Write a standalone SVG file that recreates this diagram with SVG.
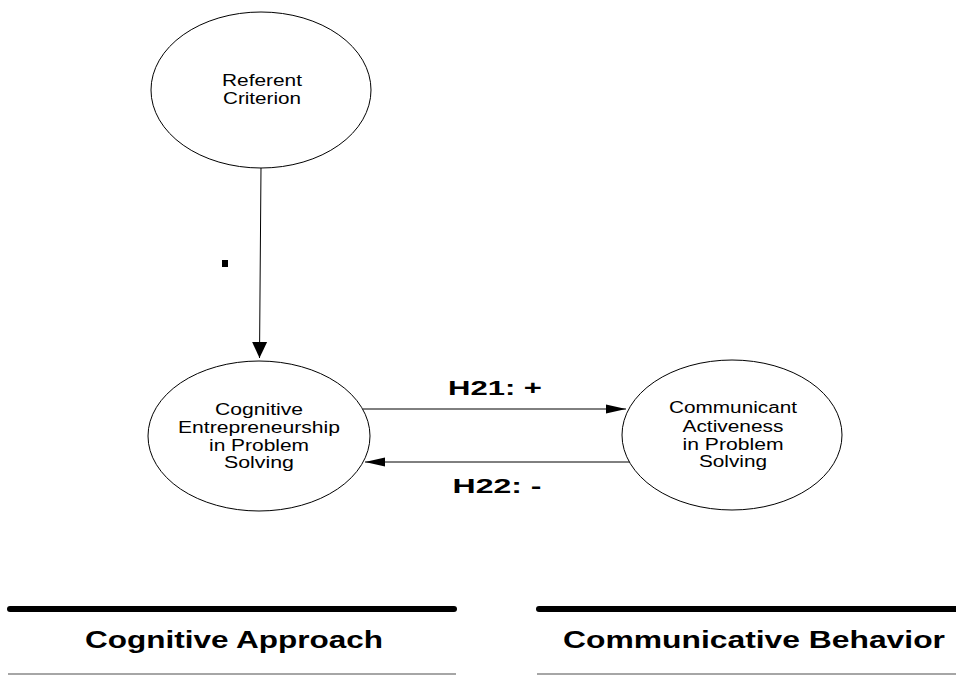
<svg xmlns="http://www.w3.org/2000/svg" width="956" height="675" viewBox="0 0 956 675">
  <style>
    .node { fill: #ffffff; stroke: #000000; stroke-width: 1; }
    .lbl { font-family: "Liberation Sans", Arial, sans-serif; font-size: 16px; fill: #000000; text-anchor: middle; }
    .hyp { font-family: "Liberation Sans", Arial, sans-serif; font-size: 21px; font-weight: bold; fill: #000000; text-anchor: middle; }
    .cap { font-family: "Liberation Sans", Arial, sans-serif; font-size: 24px; font-weight: bold; fill: #000000; text-anchor: middle; }
    .edge { stroke: #000000; stroke-width: 1; fill: none; }
    .rule-heavy { stroke: #000000; stroke-width: 6; stroke-linecap: round; }
    .rule-light { stroke: #888888; stroke-width: 1.5; }
  </style>
  <defs>
    <marker id="headH" markerUnits="userSpaceOnUse" markerWidth="20" markerHeight="10" refX="20" refY="5" orient="auto">
      <polygon points="0,0.5 20,5 0,9.5" fill="#000000"/>
    </marker>
    <marker id="headV" markerUnits="userSpaceOnUse" markerWidth="16" markerHeight="16" refX="16" refY="8" orient="auto">
      <polygon points="0,0.5 16,8 0,15.5" fill="#000000"/>
    </marker>
  </defs>

  <rect width="956" height="675" fill="#ffffff"/>

  <!-- connectors -->
  <g id="connectors">
    <line class="edge" x1="261" y1="167" x2="259.5" y2="358" marker-end="url(#headV)"/>
    <line class="edge" x1="363" y1="409" x2="626" y2="409" marker-end="url(#headH)"/>
    <line class="edge" x1="630" y1="462" x2="365" y2="462" marker-end="url(#headH)"/>
    <rect x="222" y="260" width="6" height="7" fill="#000000"/>
    <text class="hyp" x="495" y="395" textLength="94" lengthAdjust="spacingAndGlyphs">H21: +</text>
    <text class="hyp" x="497" y="493" textLength="89" lengthAdjust="spacingAndGlyphs">H22: -</text>
  </g>

  <!-- nodes -->
  <g id="referent-criterion">
    <ellipse class="node" cx="261" cy="90" rx="110" ry="78"/>
    <text class="lbl" x="262" y="86" textLength="80" lengthAdjust="spacingAndGlyphs">Referent</text>
    <text class="lbl" x="262" y="104" textLength="78" lengthAdjust="spacingAndGlyphs">Criterion</text>
  </g>

  <g id="cognitive-entrepreneurship">
    <ellipse class="node" cx="259" cy="436" rx="111" ry="75"/>
    <text class="lbl" x="259" y="415" textLength="88" lengthAdjust="spacingAndGlyphs">Cognitive</text>
    <text class="lbl" x="259" y="433" textLength="162" lengthAdjust="spacingAndGlyphs">Entrepreneurship</text>
    <text class="lbl" x="259" y="451" textLength="100" lengthAdjust="spacingAndGlyphs">in Problem</text>
    <text class="lbl" x="259" y="468" textLength="70" lengthAdjust="spacingAndGlyphs">Solving</text>
  </g>

  <g id="communicant-activeness">
    <ellipse class="node" cx="732" cy="435" rx="110" ry="75"/>
    <text class="lbl" x="733" y="413" textLength="128" lengthAdjust="spacingAndGlyphs">Communicant</text>
    <text class="lbl" x="733" y="432" textLength="101" lengthAdjust="spacingAndGlyphs">Activeness</text>
    <text class="lbl" x="733" y="450" textLength="101" lengthAdjust="spacingAndGlyphs">in Problem</text>
    <text class="lbl" x="733" y="467" textLength="68" lengthAdjust="spacingAndGlyphs">Solving</text>
  </g>

  <!-- column headings -->
  <g id="heading-cognitive">
    <line class="rule-heavy" x1="10" y1="609" x2="454" y2="609"/>
    <text class="cap" x="234" y="648" textLength="298" lengthAdjust="spacingAndGlyphs">Cognitive Approach</text>
    <line class="rule-light" x1="8" y1="674" x2="456" y2="674"/>
  </g>
  <g id="heading-communicative">
    <line class="rule-heavy" x1="539" y1="609" x2="960" y2="609"/>
    <text class="cap" x="754" y="648" textLength="382" lengthAdjust="spacingAndGlyphs">Communicative Behavior</text>
    <line class="rule-light" x1="537" y1="674" x2="956" y2="674"/>
  </g>
</svg>
